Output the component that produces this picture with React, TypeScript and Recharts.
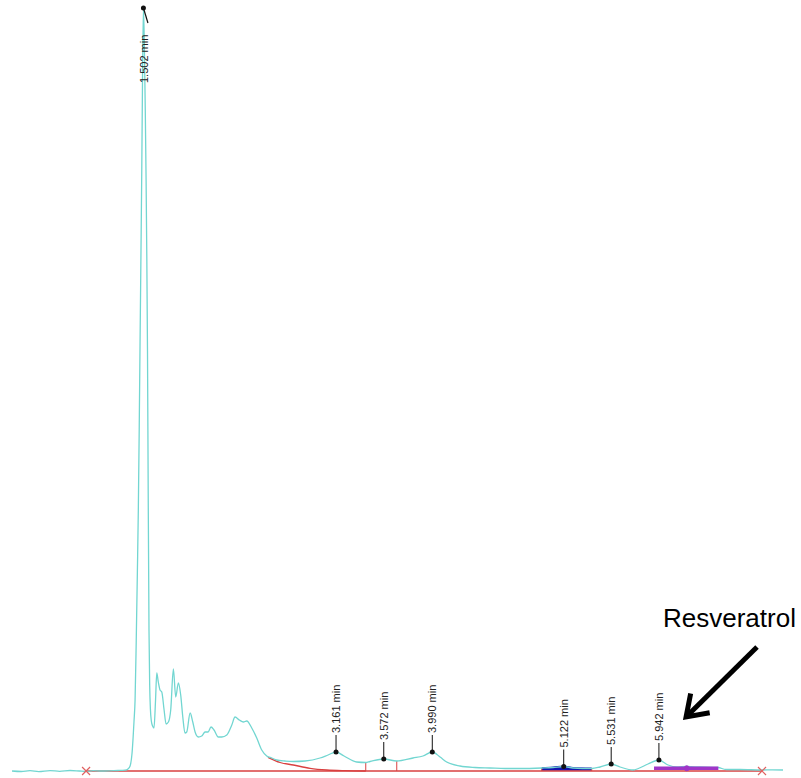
import React from "react";
import {
  ComposedChart,
  Line,
  Area,
  Scatter,
  XAxis,
  YAxis,
  ReferenceLine,
  ReferenceDot,
} from "recharts";

// retention time (min) and detector signal
const times = [
  0.37, 0.45, 0.525, 0.6, 0.698, 0.78, 0.87, 0.95, 1.008, 1.07, 1.128, 1.214,
  1.283, 1.318, 1.344, 1.369, 1.387, 1.404, 1.421, 1.43, 1.44, 1.45, 1.458,
  1.466, 1.473, 1.481, 1.488, 1.494, 1.502, 1.51, 1.518, 1.525, 1.531, 1.537,
  1.543, 1.55, 1.556, 1.562, 1.57, 1.581, 1.593, 1.606, 1.617, 1.63, 1.645,
  1.66, 1.68, 1.697, 1.717, 1.737, 1.76, 1.78, 1.803, 1.823, 1.841, 1.86,
  1.875, 1.904, 1.927, 1.947, 1.975, 2.004, 2.033, 2.059, 2.084, 2.11, 2.147,
  2.177, 2.22, 2.263, 2.291, 2.328, 2.363, 2.392, 2.435, 2.478, 2.521, 2.564,
  2.607, 2.65, 2.722, 2.791, 2.894, 3.023, 3.092, 3.161, 3.23, 3.339, 3.417,
  3.454, 3.572, 3.684, 3.824, 3.91, 3.99, 4.057, 4.114, 4.229, 4.358, 4.487,
  4.617, 4.746, 4.933, 5.03, 5.122, 5.202, 5.363, 5.435, 5.531, 5.607, 5.722,
  5.765, 5.848, 5.942, 6.021, 6.095, 6.182, 6.296, 6.451, 6.52, 6.641, 6.83,
  6.92, 7.011,
];
const signal = [
  0, -0.5, 0.3, -0.6, 0.4, -0.3, 0.5, 0, -0.4, 0.3, 0, 0.2,
  0.5, 0.6, 0.8, 2, 5, 18, 50, 71, 130, 200, 261,
  345, 430, 521, 605, 690, 763, 725, 660, 590, 515, 420,
  280, 140, 85, 62, 50, 45, 43, 70, 98, 89, 81,
  79, 61, 47, 49, 61, 102, 74, 88, 76, 54, 38,
  39, 58, 49, 39, 34, 35, 39, 39, 44, 41, 34,
  34, 36, 46, 54, 51, 49, 50, 43, 33, 21, 15,
  13, 11, 10, 9.5, 10, 13, 16, 19, 15, 9, 8.5,
  9.5, 12, 10, 13, 15, 19, 14, 9, 5, 3.5, 3,
  2.5, 2.5, 3, 3.5, 4.5, 3, 2.5, 4, 7, 4, 1,
  2.5, 7, 11, 6, 4, 4.5, 4, 3.5, 1.5, 1.5, 1,
  1.2, 1,
];

const peakTimes = [1.502, 3.161, 3.572, 3.99, 5.122, 5.531, 5.942];

// integration baseline: start / end markers and tangent skim under 3.161
const baselineEnds = [1.008, 6.83];
const skimTimes = [2.575, 2.679, 2.793, 2.937, 3.081, 3.239, 3.417];
const skimValues = [13.7, 8.5, 6, 2.7, 1, 0.3, 0];
const dropTimes = [3.417, 3.684, 4.933, 5.363, 5.722];

const filledPeak = [4.933, 5.363];
const resveratrolBand = [5.9, 6.454];
const resveratrolLevel = 2.7;
const resveratrolMark = 6.182;

const annotation = "Resveratrol";
const arrowFrom = { t: 6.787, v: 124 };
const arrowTo = { t: 6.176, v: 54 };

const trace = times.map((t, i) => ({ t, v: signal[i] }));
const valueAt = (t: number) => {
  for (let i = 1; i < trace.length; i++) {
    if (trace[i].t >= t) {
      const a = trace[i - 1];
      const b = trace[i];
      return a.v + ((t - a.t) / (b.t - a.t)) * (b.v - a.v);
    }
  }
  return 0;
};
const peaks = peakTimes.map((t) => ({ t, v: valueAt(t), label: `${t.toFixed(3)} min` }));
const skim = skimTimes.map((t, i) => ({ t, v: skimValues[i] }));
const filled = trace.filter((d) => d.t >= filledPeak[0] && d.t <= filledPeak[1]);

const FONT = "'Liberation Sans', Arial, sans-serif";
const RED = "#d94040";

const PeakLabel = (props: any) => {
  const { cx, cy, payload } = props;
  if (cx == null || cy == null) return null;
  if (cy < 40) {
    // label of the tall peak sits below its apex
    const ty = cy + 75;
    return (
      <g>
        <circle cx={cx} cy={cy} r={2.5} fill="#111" />
        <line x1={cx} y1={cy} x2={cx + 4.5} y2={cy + 15} stroke="#111" strokeWidth={1.2} />
        <text
          x={cx + 0.5}
          y={ty}
          transform={`rotate(-90 ${cx + 0.5} ${ty})`}
          fontSize={11}
          fontFamily={FONT}
          fill="#222"
          dominantBaseline="central"
        >
          {payload.label}
        </text>
      </g>
    );
  }
  const ty = cy - 19;
  return (
    <g>
      <line x1={cx} y1={cy} x2={cx} y2={cy - 17} stroke="#111" strokeWidth={1} />
      <circle cx={cx} cy={cy} r={2.5} fill="#111" />
      <text
        x={cx}
        y={ty}
        transform={`rotate(-90 ${cx} ${ty})`}
        fontSize={11}
        fontFamily={FONT}
        fill="#222"
        dominantBaseline="central"
      >
        {payload.label}
      </text>
    </g>
  );
};

const Cross = (props: any) => {
  const { cx, cy } = props;
  const s = 4;
  return (
    <g stroke="#e06060" strokeWidth={1.2}>
      <line x1={cx - s} y1={cy - s} x2={cx + s} y2={cy + s} />
      <line x1={cx - s} y1={cy + s} x2={cx + s} y2={cy - s} />
    </g>
  );
};

const Arrow = (props: any) => {
  const { x1, y1, x2, y2 } = props;
  if (x1 == null) return null;
  const ang = Math.atan2(y1 - y2, x1 - x2);
  const len = 24;
  const spread = 0.6;
  const w1x = x2 + len * Math.cos(ang - spread);
  const w1y = y2 + len * Math.sin(ang - spread);
  const w2x = x2 + len * Math.cos(ang + spread);
  const w2y = y2 + len * Math.sin(ang + spread);
  return (
    <g>
      <line x1={x1} y1={y1} x2={x2 + 3} y2={y2 - 3} stroke="#000" strokeWidth={5} />
      <polyline
        points={`${w1x},${w1y} ${x2},${y2} ${w2x},${w2y}`}
        fill="none"
        stroke="#000"
        strokeWidth={5}
        strokeLinejoin="miter"
      />
      <text x={x1 - 94} y={y1 - 20} fontSize={26} fontFamily={FONT} fill="#000">
        {annotation}
      </text>
    </g>
  );
};

export default function App() {
  return (
    <div style={{ position: "absolute", left: 0, top: 0, background: "#fff" }}>
      <ComposedChart
        width={801}
        height={778}
        margin={{ top: 0, right: 8, bottom: 0, left: 4 }}
      >
        <XAxis type="number" dataKey="t" domain={[0.301, 7.097]} hide allowDataOverflow />
        <YAxis type="number" dataKey="v" domain={[-7, 771]} hide allowDataOverflow />

        <ReferenceLine
          segment={[
            { x: baselineEnds[0], y: 0 },
            { x: baselineEnds[1], y: 0 },
          ]}
          stroke={RED}
          strokeWidth={1.3}
        />
        <Line
          data={skim}
          dataKey="v"
          type="monotone"
          stroke={RED}
          strokeWidth={1.3}
          dot={false}
          isAnimationActive={false}
        />
        {dropTimes.map((t) => (
          <ReferenceLine
            key={`drop-${t}`}
            segment={[
              { x: t, y: 0 },
              { x: t, y: valueAt(t) },
            ]}
            stroke={RED}
            strokeWidth={1}
          />
        ))}

        <Line
          data={trace}
          dataKey="v"
          type="monotone"
          stroke="#72d6d1"
          strokeWidth={1.3}
          dot={false}
          isAnimationActive={false}
        />

        <Area
          data={filled}
          dataKey="v"
          type="monotone"
          baseValue={0.3}
          stroke="#1414b0"
          strokeWidth={2}
          fill="#1414b0"
          fillOpacity={1}
          isAnimationActive={false}
        />
        <ReferenceLine
          segment={[
            { x: resveratrolBand[0], y: resveratrolLevel },
            { x: resveratrolBand[1], y: resveratrolLevel },
          ]}
          stroke="#a035c8"
          strokeWidth={3.5}
        />
        <ReferenceDot x={resveratrolMark} y={resveratrolLevel} r={2.5} fill="#a035c8" stroke="#a035c8" />

        {baselineEnds.map((t) => (
          <ReferenceDot key={`end-${t}`} x={t} y={0} r={4} shape={<Cross />} />
        ))}

        <Scatter data={peaks} shape={<PeakLabel />} isAnimationActive={false} />

        <ReferenceLine
          segment={[
            { x: arrowFrom.t, y: arrowFrom.v },
            { x: arrowTo.t, y: arrowTo.v },
          ]}
          shape={<Arrow />}
        />
      </ComposedChart>
    </div>
  );
}
